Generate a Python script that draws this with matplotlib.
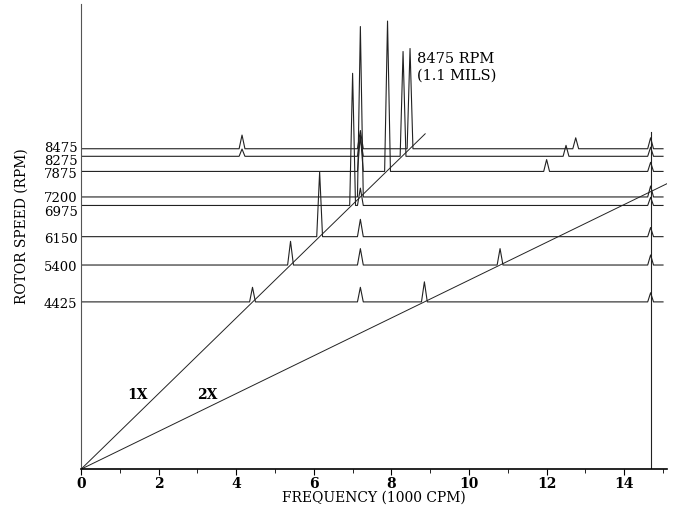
import matplotlib
matplotlib.use("Agg")
import matplotlib.pyplot as plt

# Rotor speeds of the cascade rows (RPM)
row_rpm = [4425, 5400, 6150, 6975, 7200, 7875, 8275, 8475]
# label nudges in points (to keep close labels readable, as in the original)
label_nudge = [0, 0, 0, -3.2, 0.8, -0.3, -2.2, 2.0]
# 1X peak (freq in 1000 CPM, amplitude in mils)
onex_freq = [4.42, 5.40, 6.15, 7.00, 7.20, 7.90, 8.30, 8.48]
onex_amp = [0.16, 0.26, 0.71, 1.45, 1.87, 1.65, 1.15, 1.10]
# constant 7.2k CPM component
c72_freq = 7.2
c72_amp = [0.16, 0.18, 0.19, 0.19, 0.0, 0.40, 0.20, 0.20]
# constant 14.7k CPM component
c147_freq = 14.68
c147_amp = [0.10, 0.11, 0.10, 0.09, 0.12, 0.10, 0.10, 0.12]
# other peaks: (row rpm, freq, amplitude mils)
other_rows = [4425, 5400, 7875, 8275, 8475, 8475, 8275]
other_freq = [8.85, 10.80, 12.00, 12.50, 12.75, 4.15, 4.15]
other_amp = [0.22, 0.18, 0.13, 0.12, 0.12, 0.15, 0.08]
# row end frequency
row_end = 15.0
# order lines: end speeds (RPM)
order_lines = [1, 2]
order_end_rpm = [8870, 7590]
# reference line at 14.68 up to this speed
ref_top_rpm = 8930

xticks = [0, 2, 4, 6, 8, 10, 12, 14]

RPM_PER_MIL = 2410.0
HW = 0.075

plt.rcParams['font.family'] = ['DejaVu Serif']
fig = plt.figure(figsize=(6.75, 5.1), dpi=100)
ax = fig.add_axes([0.12, 0.078, 0.868, 0.912])

col = '#222222'
# order lines
for o, e in zip(order_lines, order_end_rpm):
    ax.plot([0, o * e / 1000.0], [0, e], color=col, lw=0.7)

ax.plot([c147_freq, c147_freq], [0, ref_top_rpm], color=col, lw=0.8)

for i, r in enumerate(row_rpm):
    peaks = [(onex_freq[i], onex_amp[i]), (c72_freq, c72_amp[i]), (c147_freq, c147_amp[i])]
    for rr, f, a in zip(other_rows, other_freq, other_amp):
        if rr == r:
            peaks.append((f, a))
    peaks = sorted([p for p in peaks if p[1] > 0])
    xs = [0.0]
    ys = [r]
    for f, a in peaks:
        xs += [f - HW, f, f + HW]
        ys += [r, r + a * RPM_PER_MIL, r]
    xs.append(row_end)
    ys.append(r)
    ax.plot(xs, ys, color=col, lw=0.8)

ax.set_xlim(0, 15.1)
ax.set_ylim(0, 12300)
ax.set_xticks(xticks)
ax.set_xticks(range(1, 16, 2), minor=True)
ax.set_yticks(row_rpm)
ax.set_yticklabels([])
ax.tick_params(axis='y', length=0)
for r, dy in zip(row_rpm, label_nudge):
    ax.annotate(str(r), xy=(0, r), xycoords=('axes fraction', 'data'),
                xytext=(-2.5, dy), textcoords='offset points',
                ha='right', va='center_baseline', fontsize=9.5)
ax.tick_params(axis='x', which='major', length=4, direction='out', labelsize=10, pad=1)
ax.tick_params(axis='x', which='minor', length=3, direction='out')
for lab in ax.get_xticklabels():
    lab.set_fontweight('bold')
ax.spines['top'].set_visible(False)
ax.spines['right'].set_visible(False)
ax.spines['left'].set_color('#555555')
ax.spines['bottom'].set_linewidth(1.2)

ax.set_xlabel('FREQUENCY (1000 CPM)', fontsize=10, labelpad=0)
ax.set_ylabel('ROTOR SPEED (RPM)', fontsize=10)
ax.yaxis.set_label_coords(-0.09, 0.525)

ax.text(1.45, 1990, '1X', fontsize=10, fontweight='bold', va='center', ha='center')
ax.text(3.25, 1990, '2X', fontsize=10, fontweight='bold', va='center', ha='center')
ax.text(8.65, 10660, '8475 RPM\n(1.1 MILS)', fontsize=10.5, va='center', ha='left', linespacing=1.2)

fig.savefig('out.png', dpi=100)
